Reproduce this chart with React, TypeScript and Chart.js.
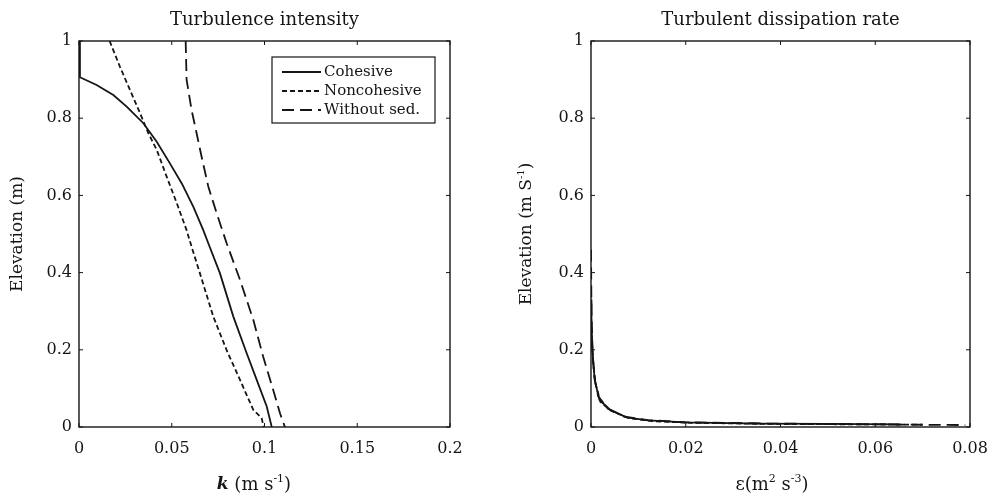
import React, { useEffect, useRef } from "react";
import { Chart, registerables } from "chart.js";
Chart.register(...registerables);

// ---------- data ----------
const seriesLabels = ["Cohesive", "Noncohesive", "Without sed."];

// Left: turbulence intensity k (m s^-1) vs elevation (m)
const kCohesive = [0, 0.0005, 0.0095, 0.0185, 0.0257, 0.0347, 0.0419, 0.049, 0.0554, 0.0616, 0.067, 0.0697, 0.076, 0.0832, 0.0904, 0.0958, 0.1012, 0.1039];
const zCohesive = [1, 0.906, 0.886, 0.86, 0.83, 0.787, 0.739, 0.683, 0.631, 0.571, 0.51, 0.476, 0.398, 0.286, 0.191, 0.122, 0.053, 0];
const kNoncohesive = [0.0165, 0.0221, 0.0275, 0.0329, 0.0374, 0.0419, 0.0473, 0.0527, 0.058, 0.0607, 0.0652, 0.0724, 0.0796, 0.0868, 0.094, 0.0985, 0.0995];
const zNoncohesive = [1, 0.933, 0.873, 0.813, 0.761, 0.718, 0.648, 0.58, 0.51, 0.467, 0.398, 0.286, 0.199, 0.122, 0.044, 0.023, 0];
const kWithout = [0.0575, 0.058, 0.0607, 0.0634, 0.0661, 0.0697, 0.0742, 0.0796, 0.0868, 0.094, 0.0993, 0.1047, 0.1084, 0.111];
const zWithout = [1, 0.9, 0.821, 0.761, 0.7, 0.623, 0.554, 0.476, 0.381, 0.277, 0.182, 0.096, 0.035, 0];

// Right: dissipation rate epsilon (m^2 s^-3) vs elevation
const eCohesive = [0, 0.0001, 0.0004, 0.0008, 0.0018, 0.004, 0.0075, 0.012, 0.02, 0.035, 0.05, 0.065];
const zeCohesive = [0.33, 0.26, 0.18, 0.12, 0.07, 0.045, 0.025, 0.017, 0.012, 0.009, 0.008, 0.007];
const eNoncohesive = [0, 0.0002, 0.0005, 0.001, 0.002, 0.0042, 0.008, 0.013, 0.021, 0.037, 0.055, 0.07];
const zeNoncohesive = [0.3, 0.22, 0.16, 0.11, 0.065, 0.042, 0.023, 0.015, 0.011, 0.008, 0.007, 0.006];
const eWithout = [0, 0.0001, 0.0003, 0.0007, 0.0015, 0.0035, 0.007, 0.012, 0.02, 0.037, 0.058, 0.079];
const zeWithout = [0.46, 0.3, 0.2, 0.13, 0.08, 0.048, 0.027, 0.018, 0.012, 0.009, 0.007, 0.005];

const leftXTicks = [0, 0.05, 0.1, 0.15, 0.2];
const rightXTicks = [0, 0.02, 0.04, 0.06, 0.08];
const yTicks = [0, 0.2, 0.4, 0.6, 0.8, 1];

// ---------- styling ----------
const FONT = "'DejaVu Serif', serif";
const INK = "#151515";
const dashes: number[][] = [[], [5, 3], [12, 6]];

type Seg = { t: string; f: string; dy?: number };

function drawRich(ctx: CanvasRenderingContext2D, segs: Seg[], cx: number, cy: number) {
  let w = 0;
  segs.forEach((s) => { ctx.font = s.f; w += ctx.measureText(s.t).width; });
  let x = cx - w / 2;
  ctx.textAlign = "left";
  ctx.textBaseline = "middle";
  segs.forEach((s) => {
    ctx.font = s.f;
    ctx.fillText(s.t, x, cy + (s.dy || 0));
    x += ctx.measureText(s.t).width;
  });
}

function pts(xs: number[], ys: number[]) {
  return xs.map((x, i) => ({ x, y: ys[i] }));
}

function framePlugin(cfg: any) {
  return {
    id: "frame_" + cfg.key,
    afterDraw(chart: any) {
      const { ctx, chartArea: a, scales } = chart;
      ctx.save();
      ctx.strokeStyle = INK;
      ctx.lineWidth = 1.4;
      ctx.setLineDash([]);
      ctx.strokeRect(a.left, a.top, a.right - a.left, a.bottom - a.top);
      ctx.lineWidth = 1;
      const L = 4;
      const seg = (x1: number, y1: number, x2: number, y2: number) => {
        ctx.beginPath(); ctx.moveTo(x1, y1); ctx.lineTo(x2, y2); ctx.stroke();
      };
      scales.x.ticks.forEach((t: any) => {
        const px = scales.x.getPixelForValue(t.value);
        seg(px, a.bottom, px, a.bottom - L);
        seg(px, a.top, px, a.top + L);
      });
      scales.y.ticks.forEach((t: any) => {
        const py = scales.y.getPixelForValue(t.value);
        seg(a.left, py, a.left + L, py);
        seg(a.right, py, a.right - L, py);
      });
      ctx.fillStyle = INK;
      // title
      ctx.font = `18px ${FONT}`;
      ctx.textAlign = "center";
      ctx.textBaseline = "middle";
      ctx.fillText(cfg.title, (a.left + a.right) / 2, 20);
      // x label
      drawRich(ctx, cfg.xLabel, cfg.xLabelX, 485);
      // y label
      ctx.save();
      ctx.translate(cfg.yLabelX, (a.top + a.bottom) / 2);
      ctx.rotate(-Math.PI / 2);
      drawRich(ctx, cfg.yLabel, 0, 0);
      ctx.restore();
      // legend
      if (cfg.legend) {
        const lx = 272, ly = 57, lw = 163, lh = 66;
        ctx.fillStyle = "#ffffff";
        ctx.fillRect(lx, ly, lw, lh);
        ctx.strokeStyle = INK;
        ctx.lineWidth = 1.2;
        ctx.setLineDash([]);
        ctx.strokeRect(lx, ly, lw, lh);
        chart.data.datasets.forEach((ds: any, i: number) => {
          const yy = ly + 15 + i * 19;
          ctx.lineWidth = ds.borderWidth;
          ctx.setLineDash(ds.borderDash || []);
          seg(lx + 10, yy, lx + 49, yy);
          ctx.setLineDash([]);
          ctx.fillStyle = INK;
          ctx.font = `15px ${FONT}`;
          ctx.textAlign = "left";
          ctx.textBaseline = "middle";
          ctx.fillText(ds.label, lx + 52, yy);
        });
      }
      ctx.restore();
    },
  };
}

function makeConfig(cfg: any) {
  const datasets = cfg.series.map((s: any, i: number) => ({
    label: seriesLabels[i],
    data: s,
    showLine: true,
    pointRadius: 0,
    borderColor: INK,
    borderWidth: 1.8,
    borderDash: dashes[i],
    fill: false,
    tension: 0,
  }));
  const tickFmt = (v: any) => String(+Number(v).toFixed(3));
  return {
    type: "scatter",
    data: { datasets },
    options: {
      animation: false,
      responsive: false,
      devicePixelRatio: 1,
      layout: { padding: { left: 0, top: 41, right: cfg.padRight, bottom: 0 } },
      plugins: { legend: { display: false }, tooltip: { enabled: false }, title: { display: false } },
      scales: {
        x: {
          type: "linear",
          min: cfg.xTicks[0],
          max: cfg.xTicks[cfg.xTicks.length - 1],
          afterBuildTicks: (s: any) => { s.ticks = cfg.xTicks.map((v: number) => ({ value: v })); },
          afterFit: (s: any) => { s.height = 68; s.paddingLeft = 0; s.paddingRight = 0; },
          grid: { display: false, drawTicks: false },
          border: { display: false },
          ticks: { color: INK, font: { family: FONT, size: 16 }, padding: 12, maxRotation: 0, callback: tickFmt },
        },
        y: {
          type: "linear",
          min: 0,
          max: 1,
          afterBuildTicks: (s: any) => { s.ticks = yTicks.map((v) => ({ value: v })); },
          afterFit: (s: any) => { s.width = cfg.yWidth; s.paddingTop = 0; s.paddingBottom = 0; },
          grid: { display: false, drawTicks: false },
          border: { display: false },
          ticks: { color: INK, font: { family: FONT, size: 16 }, padding: 7, callback: tickFmt },
        },
      },
    },
    plugins: [framePlugin(cfg)],
  };
}

function Panel(props: { cfg: any; left: number; width: number }) {
  const ref = useRef<HTMLCanvasElement>(null);
  useEffect(() => {
    const c = new Chart(ref.current as HTMLCanvasElement, makeConfig(props.cfg) as any);
    return () => c.destroy();
  }, []);
  return (
    <canvas
      ref={ref}
      width={props.width}
      height={495}
      style={{ position: "absolute", left: props.left, top: 0, width: props.width, height: 495, display: "block" }}
    />
  );
}

const leftCfg = {
  key: "left",
  title: "Turbulence intensity",
  series: [pts(kCohesive, zCohesive), pts(kNoncohesive, zNoncohesive), pts(kWithout, zWithout)],
  xTicks: leftXTicks,
  yWidth: 79,
  padRight: 46,
  legend: true,
  xLabelX: 254,
  yLabelX: 18,
  xLabel: [
    { t: "k", f: `italic bold 17px ${FONT}` },
    { t: " (m s", f: `18px ${FONT}` },
    { t: "-1", f: `11px ${FONT}`, dy: -6 },
    { t: ")", f: `18px ${FONT}` },
  ],
  yLabel: [{ t: "Elevation (m)", f: `17px ${FONT}` }],
};

const rightCfg = {
  key: "right",
  title: "Turbulent dissipation rate",
  series: [pts(eCohesive, zeCohesive), pts(eNoncohesive, zeNoncohesive), pts(eWithout, zeWithout)],
  xTicks: rightXTicks,
  yWidth: 95,
  padRight: 23,
  legend: false,
  xLabelX: 276,
  yLabelX: 31,
  xLabel: [
    { t: "ε(m", f: `18px ${FONT}` },
    { t: "2", f: `11px ${FONT}`, dy: -6 },
    { t: " s", f: `18px ${FONT}` },
    { t: "-3", f: `11px ${FONT}`, dy: -6 },
    { t: ")", f: `18px ${FONT}` },
  ],
  yLabel: [
    { t: "Elevation (m S", f: `17px ${FONT}` },
    { t: "-1", f: `10px ${FONT}`, dy: -6 },
    { t: ")", f: `17px ${FONT}` },
  ],
};

export default function App() {
  return (
    <div style={{ position: "absolute", left: 0, top: 0, width: 993, height: 495, background: "#fff", overflow: "hidden" }}>
      <Panel cfg={leftCfg} left={0} width={496} />
      <Panel cfg={rightCfg} left={496} width={497} />
    </div>
  );
}
